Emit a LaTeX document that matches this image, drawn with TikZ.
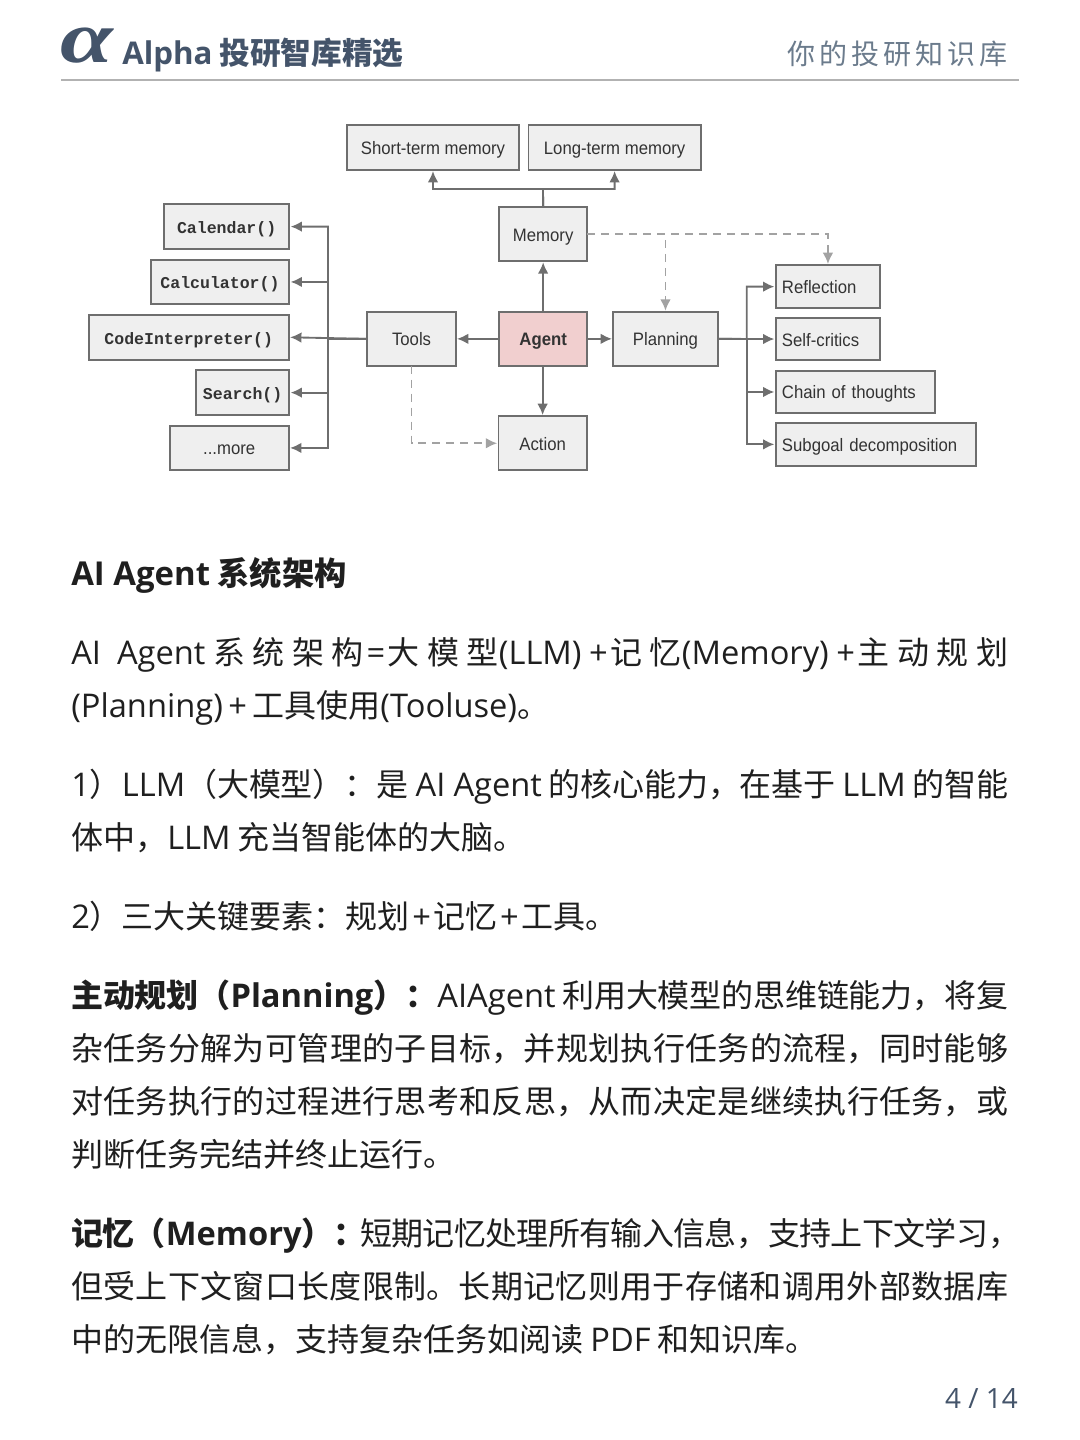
\documentclass[tikz,border=0pt]{standalone}
\usepackage{fontspec}
\setmainfont{Noto Sans CJK SC}
\newfontfamily\latinfont[Scale=1.02]{Open Sans}
\newfontfamily\diagfont[FakeStretch=0.93]{Liberation Sans}
\newfontfamily\codefont{Liberation Mono}
\newfontfamily\logofont{Liberation Serif}
\usetikzlibrary{arrows.meta,positioning}
\definecolor{slatehead}{HTML}{44546A}
\definecolor{slatelight}{HTML}{6B7B8C}
\definecolor{boxline}{HTML}{6E6E6E}
\definecolor{boxfill}{HTML}{EFEFEF}
\definecolor{agentfill}{HTML}{F1CFCF}
\definecolor{dashgray}{HTML}{A2A2A2}
\definecolor{bodyink}{HTML}{1F1F1F}
\newcommand{\en}[1]{{\latinfont #1}}
\XeTeXlinebreaklocale "zh"
\XeTeXlinebreakskip=0pt plus 3pt minus 1.5pt

\begin{document}
\begin{tikzpicture}[
    x=0.75pt, y=-0.75pt,
    box/.style={rectangle, draw=boxline, fill=boxfill, line width=1.4pt, outer sep=0pt, text=black!80, text height=13.5pt, text depth=3pt, font=\diagfont\fontsize{13.5}{16}\selectfont},
    codebox/.style={box, font=\codefont\bfseries\fontsize{12.4}{15}\selectfont, minimum height=33.5pt},
    planbox/.style={box, align=left, inner xsep=4.7pt, minimum height=32pt},
    conn/.style={draw=boxline, line width=1.4pt, -{Latex[length=8.5pt,width=8pt]}, shorten >=1pt},
    dashconn/.style={draw=dashgray, line width=1.3pt, dash pattern=on 6pt off 4.5pt, -{Latex[length=8.5pt,width=8pt]}, shorten >=1pt},
    bodytext/.style={anchor=north west, inner sep=0pt, text width=702.75pt, align=justify, text=bodyink, font=\fontsize{24}{39.75}\selectfont}
]
\useasboundingbox (0,0) rectangle (1080,1440);

% header
\node[anchor=center, text=slatehead, xscale=1.3, font=\logofont\bfseries\itshape\fontsize{55}{55}\selectfont] (logo) at (87,46) {α};
\node[anchor=west, inner sep=0pt, text=slatehead, font=\bfseries\fontsize{23}{26}\selectfont] (brand) at (122,55) {\en{Alpha} 投研智库精选};
\node[anchor=east, inner sep=0pt, text=slatelight, font=\fontsize{21}{26}\selectfont] (motto) at (1008,54) {你\hspace{3pt}的\hspace{3pt}投\hspace{3pt}研\hspace{3pt}知\hspace{3pt}识\hspace{3pt}库};
\coordinate (ruleleft) at (61,80);
\coordinate (ruleright) at (1019,80);
\draw[draw=black!30, line width=0.8pt] (ruleleft) -- (ruleright);

% agent and its neighbours
\node[box, minimum width=66.2pt, minimum height=40.3pt, fill=agentfill, font=\diagfont\bfseries\fontsize{13.5}{16}\selectfont] (agent) at (543.15,338.85) {Agent};
\node[box, minimum width=66.2pt, minimum height=40.3pt, left=32.5pt of agent] (tools) {Tools};
\node[box, minimum width=78.3pt, minimum height=40.3pt, right=19.5pt of agent] (planning) {Planning};
\node[box, minimum width=66.2pt, minimum height=40.3pt, above=38.25pt of agent] (memory) {Memory};
\node[box, minimum width=66.2pt, minimum height=40.3pt, below=38pt of agent, xshift=-0.4pt] (action) {Action};
\node[box, minimum width=129.2pt, minimum height=33.8pt] (shortterm) at (433,147.2) {Short-term memory};
\node[box, minimum width=129.2pt, minimum height=33.8pt, right=7pt of shortterm] (longterm) {Long-term memory};

% tools
\node[codebox, minimum width=94pt, anchor=east] (calendar) at (289.3,226.6) {Calendar()};
\node[codebox, minimum width=104pt, below=8pt of calendar.south east, anchor=north east] (calculator) {Calculator()};
\node[codebox, minimum width=150pt, below=8pt of calculator.south east, anchor=north east, xshift=-0.4pt] (codeinterp) {CodeInterpreter()};
\node[codebox, minimum width=70pt, below=8pt of codeinterp.south east, anchor=north east, xshift=0.4pt] (search) {Search()};
\node[box, minimum width=89.3pt, minimum height=33.5pt, below=8pt of search.south east, anchor=north east, xshift=-0.4pt] (more) {...more};

% planning
\node[planbox, text width=69pt, anchor=north west] (reflection) at (775.7,265.3) {Reflection};
\node[planbox, text width=69pt, below=7.3pt of reflection.south west, anchor=north west] (selfcritics) {Self-critics};
\node[planbox, text width=109.8pt, below=7.7pt of selfcritics.south west, anchor=north west] (chain) {Chain of thoughts};
\node[planbox, text width=140.5pt, below=7.3pt of chain.south west, anchor=north west] (subgoal) {Subgoal decomposition};

% connectors
\coordinate (membus) at (543,189);
\coordinate (toolbus) at (328,339);
\coordinate (planbus) at (746.7,339);
\draw[conn] (agent) -- (tools);
\draw[conn] (agent) -- (planning);
\draw[conn] (agent) -- (memory);
\draw[conn] (agent.south -| action) -- (action);
\draw[conn] (memory.north) -- (membus) -| (shortterm.south);
\draw[conn] (memory.north) -- (membus) -| (longterm.south);
\draw[conn] (tools.west) -- (toolbus) |- (calendar.east);
\draw[conn] (toolbus) |- (calculator.east);
\draw[conn] (tools.west) -- (codeinterp.east);
\draw[conn] (toolbus) |- (search.east);
\draw[conn] (toolbus) |- (more.east);
\draw[conn] (planning.east) -- (planbus) |- (reflection.west);
\draw[conn] (planning.east) -- (selfcritics.west);
\draw[conn] (planbus) |- (chain.west);
\draw[conn] (planbus) |- (subgoal.west);
\draw[dashconn] (memory.east) -| (planning.north);
\draw[dashconn] (memory.east) -| (reflection.north);
\draw[dashconn] (tools.south) |- (action.west);

% body text
\node[bodytext, font=\bfseries\fontsize{24.2}{39.75}\selectfont] (title) at (71,557) {\en{AI Agent} 系统架构};
\node[bodytext] (paraarch) at (71,637) {\en{AI}\hspace{12pt}\en{Agent}\hspace{6pt}系统架构\en{\hspace{2pt}=\hspace{2pt}}大模型\en{(LLM)+}\hspace{2pt}记忆\en{(Memory)+}\hspace{2pt}主动规划\linebreak \en{(Planning)\,+\,}工具使用\en{(Tooluse)}。};
\node[bodytext] (paraone) at (71,769) {\en{1}）\en{LLM}（大模型）：是 \en{AI Agent} 的核心能力，在基于 \en{LLM} 的智能\linebreak 体中，\en{LLM} 充当智能体的大脑。};
\node[bodytext] (paratwo) at (71,901) {\en{2}）三大关键要素：规划\en{\hspace{1.9pt}+\hspace{1.9pt}}记忆\en{\hspace{1.9pt}+\hspace{1.9pt}}工具。};
\node[bodytext] (paraplan) at (71,980) {\textbf{主动规划（\en{Planning}）：}\en{AIAgent} 利用大模型的思维链能力，将复\linebreak 杂任务分解为可管理的子目标，并规划执行任务的流程，同时能够\linebreak 对任务执行的过程进行思考和反思，从而决定是继续执行任务，或\linebreak 判断任务完结并终止运行。};
\node[bodytext] (paramem) at (71,1218) {\textbf{记忆（\en{Memory}）：}\hspace{-4pt}短期记忆处理所有输入信息，支持上下文学习，\kern-9pt\linebreak 但受上下文窗口长度限制。长期记忆则用于存储和调用外部数据库\linebreak 中的无限信息，支持复杂任务如阅读 \en{PDF} 和知识库。};

% footer
\node[anchor=east, inner sep=0pt, text=slatehead, font=\latinfont\fontsize{20.5}{26}\selectfont] (pageno) at (1018,1398) {4 / 14};
\end{tikzpicture}
\end{document}
